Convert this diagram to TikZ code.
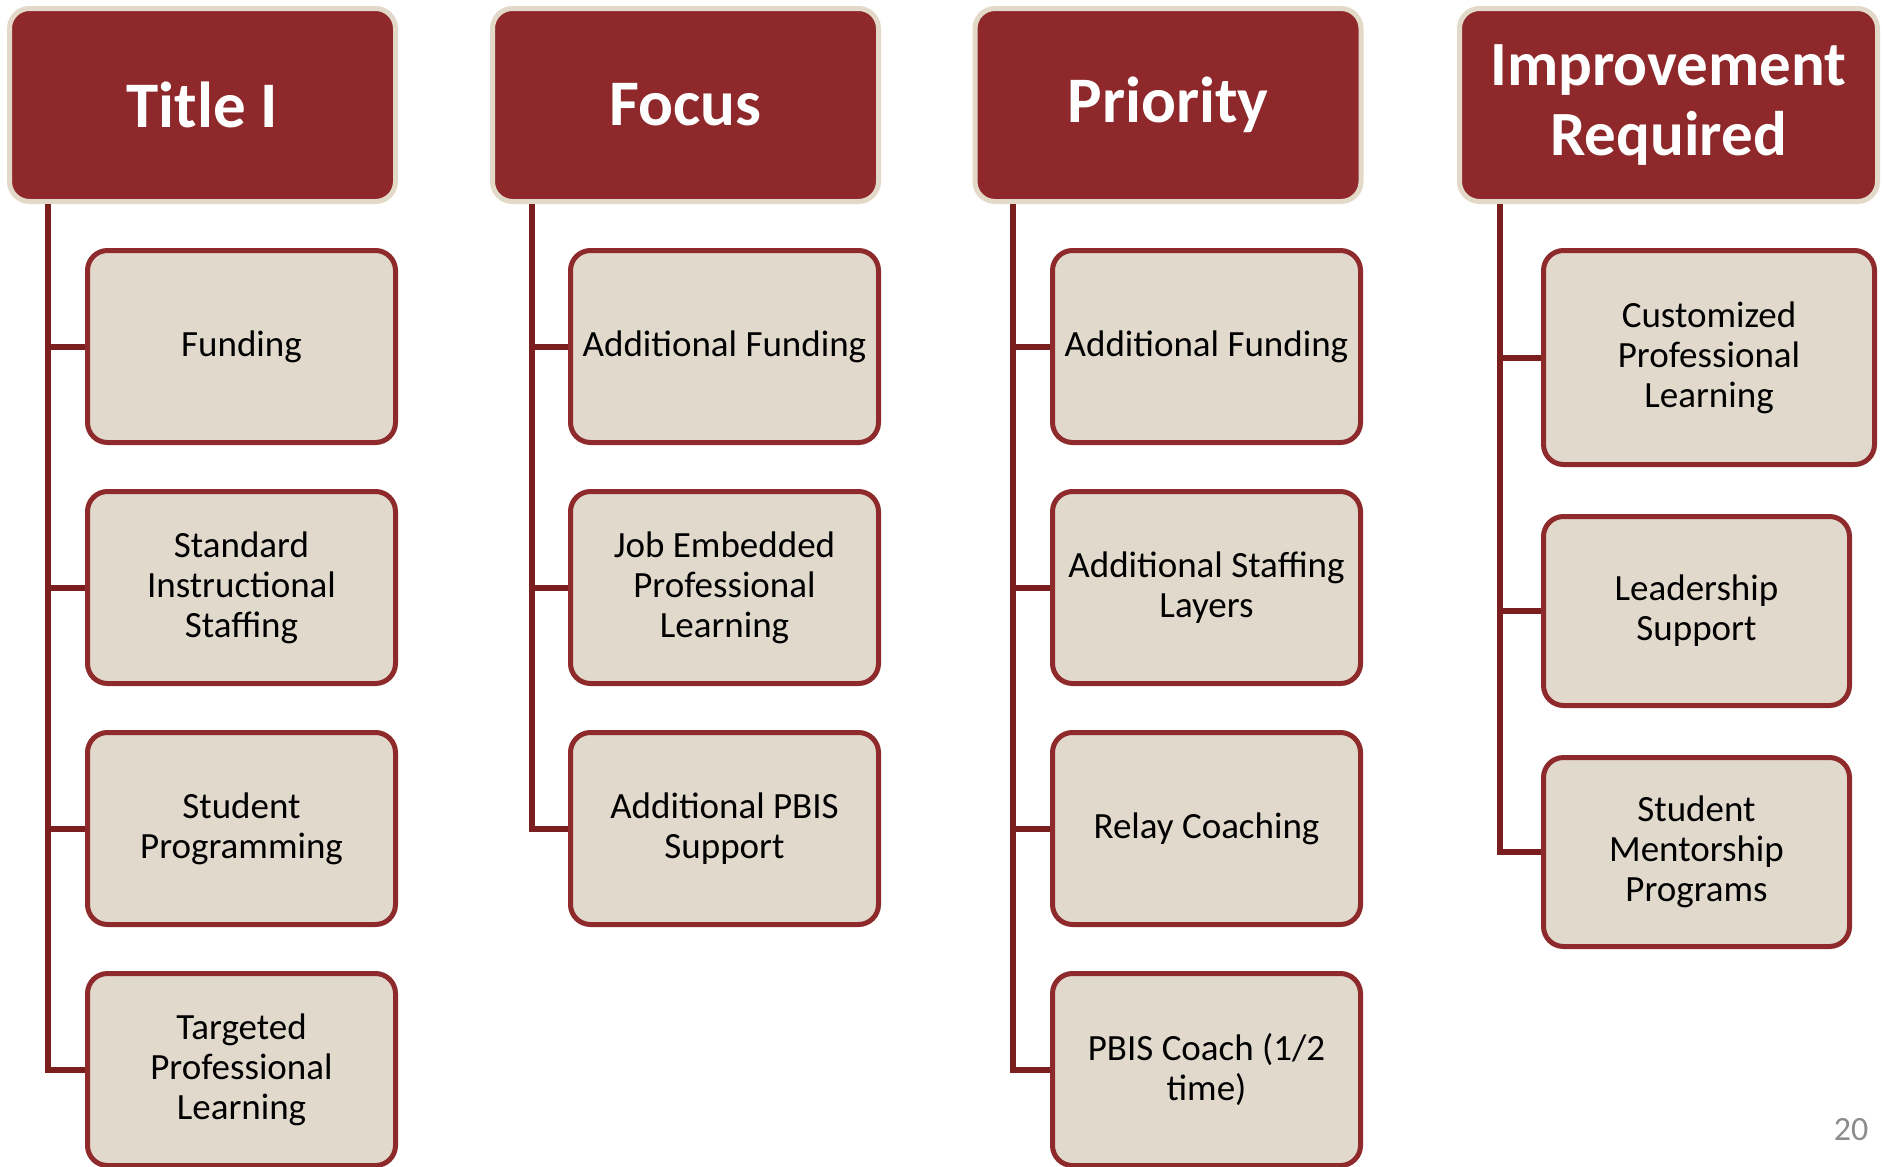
\documentclass[tikz,border=0pt]{standalone}
\usepackage{fontspec}
\setmainfont{Carlito}
\definecolor{hdrfill}{HTML}{8E282A}
\definecolor{hdrline}{HTML}{E2D9C9}
\definecolor{boxfill}{HTML}{E1D9CC}
\definecolor{boxline}{HTML}{8E2A2C}
\definecolor{connline}{HTML}{7B1E1E}
\definecolor{pagegray}{HTML}{8C8C8C}
\tikzset{
  hdr/.style={rectangle, rounded corners=20pt, fill=hdrfill, draw=hdrline, line width=5pt,
    text=white, align=center, font=\bfseries\fontsize{65}{70}\selectfont,
    minimum width=386pt, minimum height=193pt, inner sep=0pt},
  child/.style={rectangle, rounded corners=20pt, fill=boxfill, draw=boxline, line width=5pt,
    text=black, align=center, font=\fontsize{37}{40}\selectfont,
    minimum width=308pt, minimum height=192pt, inner sep=0pt},
  conn/.style={draw=connline, line width=6pt}
}
\begin{document}
\begin{tikzpicture}[x=1pt,y=-1pt]
\useasboundingbox (0,0) rectangle (1882,1167);
% headers
\node[hdr] (th) at (202.5,105) {Title I};
\node[hdr] (fh) at (685.5,105) {Focus};
\node[hdr] (ph) at (1168,105) {Priority};
\node[hdr, minimum width=418pt, font=\bfseries\fontsize{63}{70}\selectfont] (ih) at (1668.5,105) {Improvement\\Required};
% Title I children
\node[child] (t1) at (241.5,346.5) {Funding};
\node[child] (t2) at (241.5,587.5) {Standard\\Instructional\\Staffing};
\node[child] (t3) at (241.5,828.5) {Student\\Programming};
\node[child] (t4) at (241.5,1069.5) {Targeted\\Professional\\Learning};
% Focus children
\node[child] (f1) at (724.5,346.5) {Additional Funding};
\node[child] (f2) at (724.5,587.5) {Job Embedded\\Professional\\Learning};
\node[child] (f3) at (724.5,828.5) {Additional PBIS\\Support};
% Priority children
\node[child] (p1) at (1206.5,346.5) {Additional Funding};
\node[child] (p2) at (1206.5,587.5) {Additional Staffing\\Layers};
\node[child] (p3) at (1206.5,828.5) {Relay Coaching};
\node[child] (p4) at (1206.5,1069.5) {PBIS Coach (1/2\\time)};
% Improvement Required children
\node[child, minimum width=331pt, minimum height=214pt] (i1) at (1709,357.5) {Customized\\Professional\\Learning};
\node[child, minimum width=306pt, minimum height=189pt] (i2) at (1696.5,611) {Leadership\\Support};
\node[child, minimum width=306pt, minimum height=189pt] (i3) at (1696.5,852) {Student\\Mentorship\\Programs};
% connectors
\coordinate (tv) at ([xshift=41pt]th.south west);
\coordinate (fv) at ([xshift=42pt]fh.south west);
\coordinate (pv) at ([xshift=40pt]ph.south west);
\coordinate (iv) at ([xshift=43pt]ih.south west);
\draw[conn] (tv) |- (t4.west);
\draw[conn] (tv |- t1.west) -- (t1.west);
\draw[conn] (tv |- t2.west) -- (t2.west);
\draw[conn] (tv |- t3.west) -- (t3.west);
\draw[conn] (fv) |- (f3.west);
\draw[conn] (fv |- f1.west) -- (f1.west);
\draw[conn] (fv |- f2.west) -- (f2.west);
\draw[conn] (pv) |- (p4.west);
\draw[conn] (pv |- p1.west) -- (p1.west);
\draw[conn] (pv |- p2.west) -- (p2.west);
\draw[conn] (pv |- p3.west) -- (p3.west);
\draw[conn] (iv) |- (i3.west);
\draw[conn] (iv |- i1.west) -- (i1.west);
\draw[conn] (iv |- i2.west) -- (i2.west);
% page number
\node[text=pagegray, font=\fontsize{34}{40}\selectfont, inner sep=0pt] (pg) at (1851,1130) {20};
\end{tikzpicture}
\end{document}
